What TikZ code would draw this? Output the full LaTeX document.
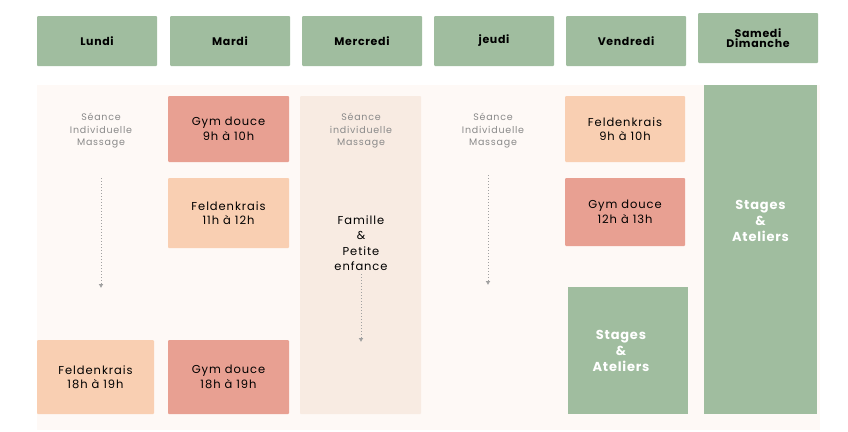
\documentclass[tikz,border=0pt]{standalone}
\usepackage{fontspec}
\setmainfont{Poppins}[LetterSpace=8]
\newfontfamily\boldfont{Poppins}[LetterSpace=6]
\usetikzlibrary{arrows.meta}
\definecolor{sage}{HTML}{A0BD9F}
\definecolor{rosy}{HTML}{E8A092}
\definecolor{peach}{HTML}{F9CFB2}
\definecolor{cream}{HTML}{F8EBE2}
\definecolor{paper}{HTML}{FEF9F6}
\definecolor{greytext}{HTML}{8A8A8A}
\tikzset{
  day/.style={fill=sage,draw=none,minimum width=120pt,minimum height=50pt,font=\boldfont\bfseries\fontsize{11}{13}\selectfont,align=center,rounded corners=1pt},
  slot/.style={draw=none,minimum width=121pt,align=center,font=\fontsize{11.5}{14.5}\selectfont,rounded corners=1pt},
  gym/.style={slot,fill=rosy},
  feld/.style={slot,fill=peach},
  stage/.style={fill=sage,draw=none,text=white,align=center,font=\boldfont\bfseries\fontsize{13}{16}\selectfont},
  seance/.style={text=greytext,align=center,font=\fontsize{9.5}{12.5}\selectfont},
  flow/.style={draw=greytext!80,dotted,line width=1pt,-{Latex[length=4pt,width=5pt]}},
}
\begin{document}
\begin{tikzpicture}[x=1pt,y=-1pt]
\useasboundingbox (0,0) rectangle (848,431);
%% fond
\fill[paper] (37,85) rectangle (820,430);
\fill[cream,rounded corners=1pt] (300,96) rectangle (421,414);
%% jours
\node (lundi) at (97,41) [day] {Lundi};
\node (mardi) at (230,41) [day] {Mardi};
\node (mercredi) at (362,41) [day] {Mercredi};
\node (jeudi) at (494,41) [day] {jeudi};
\node (vendredi) at (626,41) [day] {Vendredi};
\node (samedi) at (758,38) [day] {Samedi\\[-3pt]Dimanche};
%% lundi
\node (seance_lun) at (101,131) [seance] {Séance\\Individuelle\\Massage};
\coordinate (lun_top) at (101,178);
\coordinate (lun_bot) at (101,288);
\draw[flow] (lun_top) -- (lun_bot);
\node (feld_lun) at (95.5,377) [feld,minimum width=117pt,minimum height=74pt] {Feldenkrais\\18h à 19h};
%% mardi
\node (gym_mar) at (228.5,129) [gym,minimum height=66pt] {Gym douce\\9h à 10h};
\node (feld_mar) at (228.5,213) [feld,minimum height=70pt] {Feldenkrais\\11h à 12h};
\node (gym_mar2) at (228.5,377) [gym,minimum height=74pt] {Gym douce\\18h à 19h};
%% mercredi
\node (seance_mer) at (361,131) [seance] {Séance\\individuelle\\Massage};
\node (famille) at (361,243) [align=center,font=\fontsize{11.5}{15.5}\selectfont] {Famille\\\&\\Petite\\enfance};
\coordinate (mer_bot) at (361,342);
\draw[flow] (famille.south) -- (mer_bot);
%% jeudi
\node (seance_jeu) at (493,131) [seance] {Séance\\Individuelle\\Massage};
\coordinate (jeu_top) at (488,175);
\coordinate (jeu_bot) at (488,285);
\draw[flow] (jeu_top) -- (jeu_bot);
%% vendredi
\node (feld_ven) at (625,129) [feld,minimum width=120pt,minimum height=66pt] {Feldenkrais\\9h à 10h};
\node (gym_ven) at (625,212) [gym,minimum width=120pt,minimum height=68pt] {Gym douce\\12h à 13h};
\node (stage_ven) at (628,350.5) [stage,minimum width=120pt,minimum height=127pt] {\hspace*{-14pt}Stages\\\hspace*{-14pt}\&\\\hspace*{-14pt}Ateliers};
%% week-end
\fill[sage] (704,85) rectangle (817,414);
\node (stage_we) at (760.5,221) [stage] {Stages\\\&\\Ateliers};
\end{tikzpicture}
\end{document}
